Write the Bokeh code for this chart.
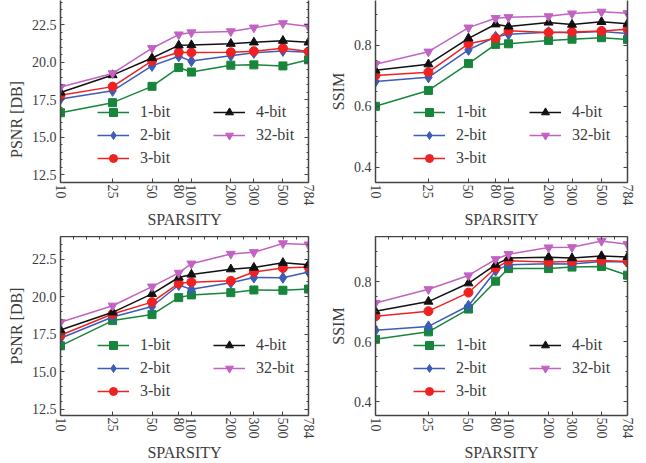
from bokeh.plotting import figure
from bokeh.layouts import gridplot
from bokeh.models import (Range1d, FixedTicker, SingleIntervalTicker, LinearAxis,
                          PrintfTickFormatter, Legend, LegendItem, CustomLabelingPolicy)
from bokeh.embed import file_html
from bokeh.resources import INLINE

# ---------------- data ----------------
sparsity = [10, 25, 50, 80, 100, 200, 300, 500, 784]
series_names = ["1-bit", "2-bit", "3-bit", "4-bit", "32-bit"]

# top-left: PSNR
psnr_top_1bit = [16.65, 17.32, 18.41, 19.66, 19.36, 19.82, 19.84, 19.77, 20.18]
psnr_top_2bit = [17.57, 18.11, 19.77, 20.41, 20.09, 20.45, 20.64, 20.77, 20.68]
psnr_top_3bit = [17.82, 18.39, 20.11, 20.68, 20.66, 20.68, 20.75, 20.95, 20.73]
psnr_top_4bit = [18.00, 19.16, 20.30, 21.14, 21.16, 21.25, 21.34, 21.45, 21.34]
psnr_top_32bit = [18.36, 19.27, 20.95, 21.86, 22.00, 22.07, 22.32, 22.61, 22.39]

# top-right: SSIM
ssim_top_1bit = [0.600, 0.652, 0.740, 0.803, 0.805, 0.816, 0.820, 0.825, 0.819]
ssim_top_2bit = [0.681, 0.695, 0.785, 0.828, 0.836, 0.843, 0.841, 0.845, 0.839]
ssim_top_3bit = [0.701, 0.712, 0.805, 0.823, 0.848, 0.842, 0.844, 0.847, 0.853]
ssim_top_4bit = [0.718, 0.738, 0.823, 0.869, 0.862, 0.875, 0.868, 0.877, 0.871]
ssim_top_32bit = [0.738, 0.779, 0.858, 0.889, 0.892, 0.895, 0.904, 0.910, 0.905]

# bottom-left: PSNR
psnr_bot_1bit = [16.72, 18.40, 18.80, 19.93, 20.11, 20.26, 20.44, 20.42, 20.50]
psnr_bot_2bit = [17.22, 18.64, 19.34, 20.77, 20.48, 20.92, 21.27, 21.25, 21.64]
psnr_bot_3bit = [17.42, 18.84, 19.63, 20.88, 20.96, 21.05, 21.64, 21.90, 21.97]
psnr_bot_4bit = [17.77, 18.95, 20.18, 21.27, 21.47, 21.82, 21.93, 22.25, 22.12]
psnr_bot_32bit = [18.29, 19.39, 20.66, 21.58, 22.19, 22.84, 22.95, 23.54, 23.46]

# bottom-right: SSIM
ssim_bot_1bit = [0.608, 0.633, 0.709, 0.802, 0.844, 0.844, 0.849, 0.851, 0.822]
ssim_bot_2bit = [0.638, 0.651, 0.720, 0.837, 0.857, 0.860, 0.859, 0.868, 0.866]
ssim_bot_3bit = [0.685, 0.702, 0.764, 0.846, 0.870, 0.866, 0.868, 0.871, 0.868]
ssim_bot_4bit = [0.702, 0.734, 0.795, 0.857, 0.879, 0.882, 0.879, 0.886, 0.883]
ssim_bot_32bit = [0.729, 0.775, 0.821, 0.875, 0.892, 0.914, 0.915, 0.936, 0.925]

# ---------------- style ----------------
COLORS = ["#17853b", "#3b5cb8", "#ee2222", "#111111", "#c262c2"]
MARKERS = ["square", "diamond", "circle", "triangle", "inverted_triangle"]
SIZES = [8, 11, 9, 9, 9]
FONT = "Liberation Serif"
TEXT = "#3c3c3c"
AXIS = "#444444"
top_ticks = [10 ** (1 + 0.1 * k) for k in range(19)]
NBSP = "\u00a0"


def style_axis(ax):
    ax.axis_line_color = AXIS
    ax.axis_line_width = 1.5
    ax.major_tick_line_color = AXIS
    ax.minor_tick_line_color = AXIS
    ax.major_tick_in = 4
    ax.major_tick_out = 0
    ax.minor_tick_in = 2
    ax.minor_tick_out = 0
    ax.major_label_text_font = FONT
    ax.major_label_text_color = TEXT
    ax.major_label_text_font_size = "14px"
    ax.axis_label_text_font = FONT
    ax.axis_label_text_font_style = "normal"
    ax.axis_label_text_color = TEXT
    ax.axis_label_text_font_size = "16px"


def hide_labels(ax):
    ax.major_label_text_font_size = "0px"
    ax.major_label_standoff = 0
    ax.major_label_policy = CustomLabelingPolicy(code="return []")


def panel(series, ylabel, y0, y1, interval, nminor, width, bl, br, height, bb,
          with_top, lx, fmt, label_pad=0):
    p = figure(width=width, height=height, x_axis_type="log",
               x_range=Range1d(10, 784), y_range=Range1d(y0, y1),
               output_backend="svg", toolbar_location=None,
               min_border_left=bl, min_border_right=br,
               min_border_top=0, min_border_bottom=bb)
    p.outline_line_color = None
    p.grid.visible = False
    p.background_fill_color = "white"
    p.border_fill_color = "white"

    xa = p.xaxis[0]
    xa.ticker = FixedTicker(ticks=sparsity, minor_ticks=[])
    xa.formatter = PrintfTickFormatter(format="%d")
    xa.major_label_orientation = "vertical"
    xa.axis_label = "SPARSITY"
    style_axis(xa)
    xa.major_label_standoff = 2
    xa.axis_label_standoff = 2

    ya = p.yaxis[0]
    ya.ticker = SingleIntervalTicker(interval=interval, num_minor_ticks=nminor)
    ya.formatter = PrintfTickFormatter(format=fmt)
    ya.axis_label = ylabel + NBSP * label_pad
    style_axis(ya)
    ya.major_label_standoff = 4
    ya.axis_label_standoff = 4

    ra = LinearAxis(ticker=SingleIntervalTicker(interval=interval, num_minor_ticks=nminor))
    style_axis(ra)
    hide_labels(ra)
    p.add_layout(ra, "right")

    if with_top:
        ta = LinearAxis(ticker=FixedTicker(ticks=top_ticks, minor_ticks=[]))
        style_axis(ta)
        ta.major_tick_in = 3
        hide_labels(ta)
        p.add_layout(ta, "above")

    items = []
    for name, ys, c, m, s in zip(series_names, series, COLORS, MARKERS, SIZES):
        l = p.line(sparsity, ys, line_color=c, line_width=1.5)
        sc = p.scatter(sparsity, ys, marker=m, size=s, fill_color=c, line_color=c)
        items.append(LegendItem(label=name, renderers=[l, sc]))
    leg = Legend(items=items, location=(lx, 14), nrows=3, orientation="vertical")
    leg.border_line_color = None
    leg.background_fill_alpha = 0
    leg.padding = 0
    leg.margin = 0
    leg.spacing = 3
    leg.glyph_width = 32
    leg.glyph_height = 20
    leg.label_standoff = 11
    leg.label_width = 70
    leg.label_height = 20
    leg.label_text_font = FONT
    leg.label_text_font_size = "16px"
    leg.label_text_color = TEXT
    p.add_layout(leg, "center")
    return p


p1 = panel([psnr_top_1bit, psnr_top_2bit, psnr_top_3bit, psnr_top_4bit, psnr_top_32bit],
           "PSNR [DB]", 12.0, 24.13, 2.5, 5, 326, 60, 18, 236, 54, False, 37, "%.1f",
           label_pad=14)
p2 = panel([ssim_top_1bit, ssim_top_2bit, ssim_top_3bit, ssim_top_4bit, ssim_top_32bit],
           "SSIM", 0.35, 0.947, 0.2, 4, 311, 49, 10, 236, 54, False, 38, "%.1f")
p3 = panel([psnr_bot_1bit, psnr_bot_2bit, psnr_bot_3bit, psnr_bot_4bit, psnr_bot_32bit],
           "PSNR [DB]", 12.08, 24.0, 2.5, 5, 326, 60, 18, 227, 45, True, 37, "%.1f")
p4 = panel([ssim_bot_1bit, ssim_bot_2bit, ssim_bot_3bit, ssim_bot_4bit, ssim_bot_32bit],
           "SSIM", 0.354, 0.951, 0.2, 4, 311, 49, 10, 227, 45, True, 38, "%.1f")

grid = gridplot([[p1, p2], [p3, p4]], toolbar_location=None)

open("out.html", "w").write(file_html(grid, INLINE))
